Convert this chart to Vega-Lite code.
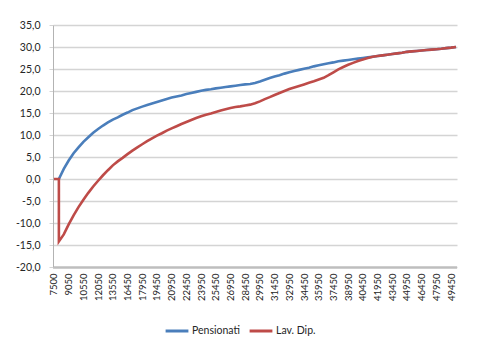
{
  "$schema": "https://vega.github.io/schema/vega-lite/v6.json",
  "width": 404,
  "height": 242,
  "autosize": "none",
  "padding": {"left": 53, "top": 25, "right": 44, "bottom": 89},
  "background": "white",
  "config": {"view": {"stroke": null}, "font": "Lato"},
  "data": {"values": [
    {"reddito": 8000, "serie": "Pensionati", "valore": 0},
    {"reddito": 8550, "serie": "Pensionati", "valore": 2.3},
    {"reddito": 9050, "serie": "Pensionati", "valore": 4.2},
    {"reddito": 9550, "serie": "Pensionati", "valore": 5.85},
    {"reddito": 10050, "serie": "Pensionati", "valore": 7.2},
    {"reddito": 10550, "serie": "Pensionati", "valore": 8.45},
    {"reddito": 11050, "serie": "Pensionati", "valore": 9.5},
    {"reddito": 11550, "serie": "Pensionati", "valore": 10.5},
    {"reddito": 12050, "serie": "Pensionati", "valore": 11.35},
    {"reddito": 12550, "serie": "Pensionati", "valore": 12.15},
    {"reddito": 13050, "serie": "Pensionati", "valore": 12.85},
    {"reddito": 13550, "serie": "Pensionati", "valore": 13.5},
    {"reddito": 14500, "serie": "Pensionati", "valore": 14.0},
    {"reddito": 15500, "serie": "Pensionati", "valore": 14.6},
    {"reddito": 16450, "serie": "Pensionati", "valore": 15.1},
    {"reddito": 16950, "serie": "Pensionati", "valore": 15.65},
    {"reddito": 17450, "serie": "Pensionati", "valore": 16.05},
    {"reddito": 17950, "serie": "Pensionati", "valore": 16.45},
    {"reddito": 18450, "serie": "Pensionati", "valore": 16.8},
    {"reddito": 18950, "serie": "Pensionati", "valore": 17.15},
    {"reddito": 19450, "serie": "Pensionati", "valore": 17.5},
    {"reddito": 19950, "serie": "Pensionati", "valore": 17.85},
    {"reddito": 20450, "serie": "Pensionati", "valore": 18.2},
    {"reddito": 20950, "serie": "Pensionati", "valore": 18.5},
    {"reddito": 21450, "serie": "Pensionati", "valore": 18.75},
    {"reddito": 21950, "serie": "Pensionati", "valore": 19.0},
    {"reddito": 22450, "serie": "Pensionati", "valore": 19.3},
    {"reddito": 22950, "serie": "Pensionati", "valore": 19.55},
    {"reddito": 23450, "serie": "Pensionati", "valore": 19.8},
    {"reddito": 23950, "serie": "Pensionati", "valore": 20.05},
    {"reddito": 24450, "serie": "Pensionati", "valore": 20.25},
    {"reddito": 24950, "serie": "Pensionati", "valore": 20.4},
    {"reddito": 25450, "serie": "Pensionati", "valore": 20.6},
    {"reddito": 25950, "serie": "Pensionati", "valore": 20.75},
    {"reddito": 26450, "serie": "Pensionati", "valore": 20.9},
    {"reddito": 26950, "serie": "Pensionati", "valore": 21.05},
    {"reddito": 27450, "serie": "Pensionati", "valore": 21.2},
    {"reddito": 27950, "serie": "Pensionati", "valore": 21.35},
    {"reddito": 28450, "serie": "Pensionati", "valore": 21.5},
    {"reddito": 28950, "serie": "Pensionati", "valore": 21.6},
    {"reddito": 29450, "serie": "Pensionati", "valore": 21.8},
    {"reddito": 29950, "serie": "Pensionati", "valore": 22.15},
    {"reddito": 30450, "serie": "Pensionati", "valore": 22.55},
    {"reddito": 30950, "serie": "Pensionati", "valore": 22.95},
    {"reddito": 31450, "serie": "Pensionati", "valore": 23.3},
    {"reddito": 31950, "serie": "Pensionati", "valore": 23.6},
    {"reddito": 32450, "serie": "Pensionati", "valore": 23.95},
    {"reddito": 32950, "serie": "Pensionati", "valore": 24.25},
    {"reddito": 33450, "serie": "Pensionati", "valore": 24.55},
    {"reddito": 33950, "serie": "Pensionati", "valore": 24.8},
    {"reddito": 34450, "serie": "Pensionati", "valore": 25.05},
    {"reddito": 34950, "serie": "Pensionati", "valore": 25.3},
    {"reddito": 35450, "serie": "Pensionati", "valore": 25.6},
    {"reddito": 35950, "serie": "Pensionati", "valore": 25.85},
    {"reddito": 36450, "serie": "Pensionati", "valore": 26.1},
    {"reddito": 36950, "serie": "Pensionati", "valore": 26.3},
    {"reddito": 37450, "serie": "Pensionati", "valore": 26.5},
    {"reddito": 37950, "serie": "Pensionati", "valore": 26.75},
    {"reddito": 38450, "serie": "Pensionati", "valore": 26.9},
    {"reddito": 38950, "serie": "Pensionati", "valore": 27.05},
    {"reddito": 39450, "serie": "Pensionati", "valore": 27.2},
    {"reddito": 39950, "serie": "Pensionati", "valore": 27.35},
    {"reddito": 40450, "serie": "Pensionati", "valore": 27.5},
    {"reddito": 40950, "serie": "Pensionati", "valore": 27.65},
    {"reddito": 41450, "serie": "Pensionati", "valore": 27.8},
    {"reddito": 41950, "serie": "Pensionati", "valore": 27.95},
    {"reddito": 42450, "serie": "Pensionati", "valore": 28.1},
    {"reddito": 42950, "serie": "Pensionati", "valore": 28.25},
    {"reddito": 43450, "serie": "Pensionati", "valore": 28.4},
    {"reddito": 43950, "serie": "Pensionati", "valore": 28.55},
    {"reddito": 44450, "serie": "Pensionati", "valore": 28.7},
    {"reddito": 44950, "serie": "Pensionati", "valore": 28.9},
    {"reddito": 45450, "serie": "Pensionati", "valore": 29.0},
    {"reddito": 45950, "serie": "Pensionati", "valore": 29.1},
    {"reddito": 46450, "serie": "Pensionati", "valore": 29.2},
    {"reddito": 46950, "serie": "Pensionati", "valore": 29.3},
    {"reddito": 47450, "serie": "Pensionati", "valore": 29.4},
    {"reddito": 47950, "serie": "Pensionati", "valore": 29.5},
    {"reddito": 48450, "serie": "Pensionati", "valore": 29.6},
    {"reddito": 48950, "serie": "Pensionati", "valore": 29.75},
    {"reddito": 49450, "serie": "Pensionati", "valore": 29.85},
    {"reddito": 49950, "serie": "Pensionati", "valore": 30.0},
    {"reddito": 7500, "serie": "Lav. Dip.", "valore": 0},
    {"reddito": 8000, "serie": "Lav. Dip.", "valore": 0},
    {"reddito": 8000, "serie": "Lav. Dip.", "valore": -14.2},
    {"reddito": 8550, "serie": "Lav. Dip.", "valore": -12.6},
    {"reddito": 9050, "serie": "Lav. Dip.", "valore": -10.3},
    {"reddito": 9550, "serie": "Lav. Dip.", "valore": -8.25},
    {"reddito": 10050, "serie": "Lav. Dip.", "valore": -6.4},
    {"reddito": 10550, "serie": "Lav. Dip.", "valore": -4.7},
    {"reddito": 11050, "serie": "Lav. Dip.", "valore": -3.15},
    {"reddito": 11550, "serie": "Lav. Dip.", "valore": -1.7},
    {"reddito": 12050, "serie": "Lav. Dip.", "valore": -0.4},
    {"reddito": 12550, "serie": "Lav. Dip.", "valore": 0.85},
    {"reddito": 13050, "serie": "Lav. Dip.", "valore": 2.0},
    {"reddito": 13550, "serie": "Lav. Dip.", "valore": 3.1},
    {"reddito": 14500, "serie": "Lav. Dip.", "valore": 4.0},
    {"reddito": 15500, "serie": "Lav. Dip.", "valore": 4.8},
    {"reddito": 16450, "serie": "Lav. Dip.", "valore": 5.65},
    {"reddito": 16950, "serie": "Lav. Dip.", "valore": 6.45},
    {"reddito": 17450, "serie": "Lav. Dip.", "valore": 7.2},
    {"reddito": 17950, "serie": "Lav. Dip.", "valore": 7.9},
    {"reddito": 18450, "serie": "Lav. Dip.", "valore": 8.6},
    {"reddito": 18950, "serie": "Lav. Dip.", "valore": 9.25},
    {"reddito": 19450, "serie": "Lav. Dip.", "valore": 9.85},
    {"reddito": 19950, "serie": "Lav. Dip.", "valore": 10.4},
    {"reddito": 20450, "serie": "Lav. Dip.", "valore": 11.0},
    {"reddito": 20950, "serie": "Lav. Dip.", "valore": 11.5},
    {"reddito": 21450, "serie": "Lav. Dip.", "valore": 12.0},
    {"reddito": 21950, "serie": "Lav. Dip.", "valore": 12.5},
    {"reddito": 22450, "serie": "Lav. Dip.", "valore": 12.95},
    {"reddito": 22950, "serie": "Lav. Dip.", "valore": 13.4},
    {"reddito": 23450, "serie": "Lav. Dip.", "valore": 13.85},
    {"reddito": 23950, "serie": "Lav. Dip.", "valore": 14.25},
    {"reddito": 24450, "serie": "Lav. Dip.", "valore": 14.6},
    {"reddito": 24950, "serie": "Lav. Dip.", "valore": 14.9},
    {"reddito": 25450, "serie": "Lav. Dip.", "valore": 15.25},
    {"reddito": 25950, "serie": "Lav. Dip.", "valore": 15.55},
    {"reddito": 26450, "serie": "Lav. Dip.", "valore": 15.85},
    {"reddito": 26950, "serie": "Lav. Dip.", "valore": 16.15},
    {"reddito": 27450, "serie": "Lav. Dip.", "valore": 16.35},
    {"reddito": 27950, "serie": "Lav. Dip.", "valore": 16.5},
    {"reddito": 28450, "serie": "Lav. Dip.", "valore": 16.7},
    {"reddito": 28950, "serie": "Lav. Dip.", "valore": 16.9},
    {"reddito": 29450, "serie": "Lav. Dip.", "valore": 17.2},
    {"reddito": 29950, "serie": "Lav. Dip.", "valore": 17.65},
    {"reddito": 30450, "serie": "Lav. Dip.", "valore": 18.15},
    {"reddito": 30950, "serie": "Lav. Dip.", "valore": 18.6},
    {"reddito": 31450, "serie": "Lav. Dip.", "valore": 19.1},
    {"reddito": 31950, "serie": "Lav. Dip.", "valore": 19.55},
    {"reddito": 32450, "serie": "Lav. Dip.", "valore": 20.0},
    {"reddito": 32950, "serie": "Lav. Dip.", "valore": 20.45},
    {"reddito": 33450, "serie": "Lav. Dip.", "valore": 20.8},
    {"reddito": 33950, "serie": "Lav. Dip.", "valore": 21.15},
    {"reddito": 34450, "serie": "Lav. Dip.", "valore": 21.5},
    {"reddito": 34950, "serie": "Lav. Dip.", "valore": 21.85},
    {"reddito": 35450, "serie": "Lav. Dip.", "valore": 22.2},
    {"reddito": 35950, "serie": "Lav. Dip.", "valore": 22.6},
    {"reddito": 36450, "serie": "Lav. Dip.", "valore": 23.0},
    {"reddito": 36950, "serie": "Lav. Dip.", "valore": 23.6},
    {"reddito": 37450, "serie": "Lav. Dip.", "valore": 24.25},
    {"reddito": 37950, "serie": "Lav. Dip.", "valore": 24.9},
    {"reddito": 38450, "serie": "Lav. Dip.", "valore": 25.45},
    {"reddito": 38950, "serie": "Lav. Dip.", "valore": 25.95},
    {"reddito": 39450, "serie": "Lav. Dip.", "valore": 26.4},
    {"reddito": 39950, "serie": "Lav. Dip.", "valore": 26.8},
    {"reddito": 40450, "serie": "Lav. Dip.", "valore": 27.15},
    {"reddito": 40950, "serie": "Lav. Dip.", "valore": 27.5},
    {"reddito": 41450, "serie": "Lav. Dip.", "valore": 27.8},
    {"reddito": 41950, "serie": "Lav. Dip.", "valore": 27.95},
    {"reddito": 42450, "serie": "Lav. Dip.", "valore": 28.1},
    {"reddito": 42950, "serie": "Lav. Dip.", "valore": 28.25},
    {"reddito": 43450, "serie": "Lav. Dip.", "valore": 28.4},
    {"reddito": 43950, "serie": "Lav. Dip.", "valore": 28.55},
    {"reddito": 44450, "serie": "Lav. Dip.", "valore": 28.7},
    {"reddito": 44950, "serie": "Lav. Dip.", "valore": 28.9},
    {"reddito": 45450, "serie": "Lav. Dip.", "valore": 29.0},
    {"reddito": 45950, "serie": "Lav. Dip.", "valore": 29.1},
    {"reddito": 46450, "serie": "Lav. Dip.", "valore": 29.2},
    {"reddito": 46950, "serie": "Lav. Dip.", "valore": 29.3},
    {"reddito": 47450, "serie": "Lav. Dip.", "valore": 29.4},
    {"reddito": 47950, "serie": "Lav. Dip.", "valore": 29.5},
    {"reddito": 48450, "serie": "Lav. Dip.", "valore": 29.6},
    {"reddito": 48950, "serie": "Lav. Dip.", "valore": 29.75},
    {"reddito": 49450, "serie": "Lav. Dip.", "valore": 29.85},
    {"reddito": 49950, "serie": "Lav. Dip.", "valore": 30.0}
  ]},
  "encoding": {
    "x": {
      "field": "reddito",
      "type": "ordinal",
      "scale": {"type": "point", "padding": 0.2},
      "axis": {
        "title": null,
        "values": [7500, 9050, 10550, 12050, 13550, 16450, 17950, 19450, 20950, 22450, 23950, 25450, 26950, 28450, 29950, 31450, 32950, 34450, 35950, 37450, 38950, 40450, 41950, 43450, 44950, 46450, 47950, 49450],
        "labelAngle": -90,
        "labelFontSize": 9.5,
        "labelColor": "#262626",
        "labelPadding": 6,
        "ticks": false,
        "grid": false,
        "domainWidth": 3,
        "domainDash": [1, 1],
        "domainColor": "#a8a8a8"
      }
    },
    "y": {
      "field": "valore",
      "type": "quantitative",
      "scale": {"domain": [-20, 35], "nice": false, "zero": false},
      "axis": {
        "title": null,
        "values": [-20, -15, -10, -5, 0, 5, 10, 15, 20, 25, 30, 35],
        "labelExpr": "replace(replace(format(datum.value, '.1f'), '.', ','), '\u2212', '-')",
        "labelFontSize": 10.5,
        "labelColor": "#262626",
        "labelPadding": 9,
        "tickSize": 4,
        "tickColor": "#d4d4d4",
        "domainColor": "#b3b3b3",
        "gridColor": "#d4d4d4",
        "gridWidth": 1.4
      }
    },
    "color": {
      "field": "serie",
      "type": "nominal",
      "scale": {"domain": ["Pensionati", "Lav. Dip."], "range": ["#4A7EBB", "#BE4B48"]},
      "legend": {
        "title": null,
        "orient": "none",
        "legendX": 111,
        "legendY": 293,
        "direction": "horizontal",
        "symbolType": "stroke",
        "symbolSize": 520,
        "symbolStrokeWidth": 3,
        "labelFontSize": 10.5,
        "labelOffset": 2,
        "labelColor": "#262626",
        "columnPadding": 3
      }
    }
  },
  "layer": [
    {
      "transform": [{"filter": "datum.serie === 'Pensionati'"}],
      "mark": {"type": "line", "strokeWidth": 2.6}
    },
    {
      "transform": [{"filter": "datum.serie === 'Lav. Dip.'"}],
      "mark": {"type": "line", "strokeWidth": 2.6}
    }
  ]
}
